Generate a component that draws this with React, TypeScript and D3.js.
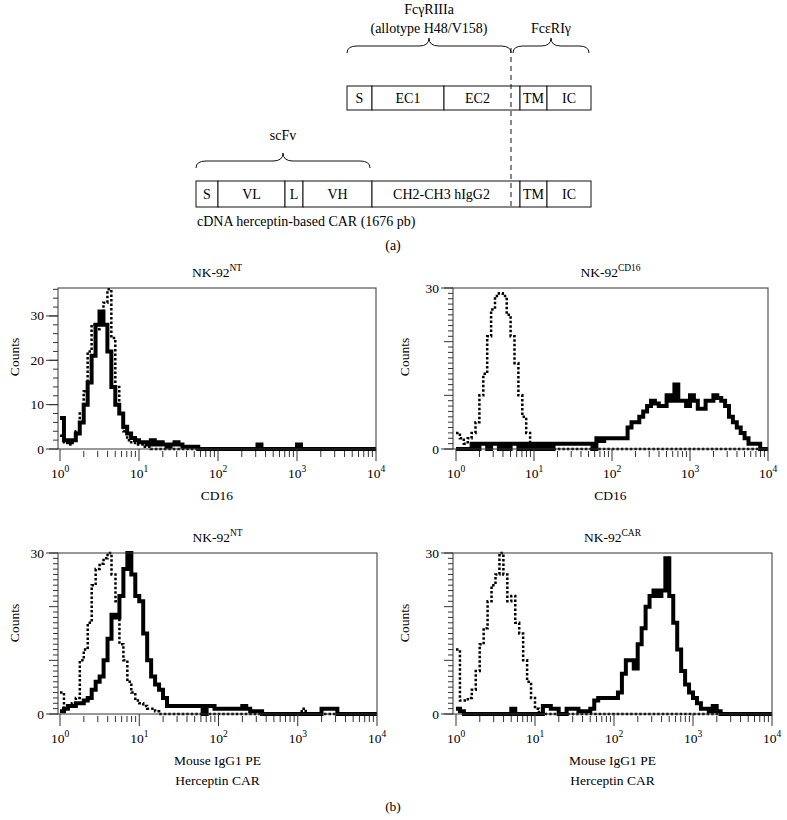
import React from 'react';
import * as d3 from 'd3';

const FONT = '"Liberation Serif", "DejaVu Serif", serif';
const INK = '#111';
const FS = 13.5;

// histogram channels: 20 per decade, 10^0 .. 10^4
const binsPerDecade = 20;

// (b) top-left: NK-92 NT, CD16
const ntCd16Stained = [
  7, 2, 1.5, 2, 3.5, 6, 10, 15, 21, 28,
  31, 28, 22, 14, 10, 8, 5, 3.5, 2.5, 2,
  1.5, 1.5, 1, 2, 1, 1.5, 1, 0.5, 1, 1.5,
  1, 0.5, 0.5, 0.5, 0.5, 0, 0, 0, 0, 0,
  0, 0, 0, 0, 0, 0, 0, 0, 0, 0,
  1, 0, 0, 0, 0, 0, 0, 0, 0, 0,
  1, 0, 0, 0, 0, 0, 0, 0, 0, 0,
  0, 0, 0, 0, 0, 0, 0, 0, 0, 0,
];
const ntCd16Isotype = [
  3, 1.5, 1, 2, 4, 8, 13, 22, 28, 27,
  30, 33, 36, 25, 14, 8, 4, 2, 1.5, 1,
  1, 0.5, 0.5, 0, 0, 0, 0, 0, 0, 0,
  0, 0, 0, 0, 0, 0, 0, 0, 0, 0,
  0, 0, 0, 0, 0, 0, 0, 0, 0, 0,
  0, 0, 0, 0, 0, 0, 0, 0, 0, 0,
  0, 0, 0, 0, 0, 0, 0, 0, 0, 0,
  0, 0, 0, 0, 0, 0, 0, 0, 0, 0,
];

// (b) top-right: NK-92 CD16, CD16
const cd16Cd16Stained = [
  0, 0, 0, 0, 1, 0, 1, 1, 0, 1,
  1, 0, 1, 0, 1, 1, 0, 1, 0, 1,
  0, 1, 0, 1, 0, 1, 1, 1, 1, 1,
  1, 1, 1, 1, 1, 0, 2, 1.5, 2, 2,
  2, 2, 2, 2, 4, 5, 5, 6, 7, 8,
  9, 8.5, 8, 8, 10, 9, 12, 9, 9, 8,
  10, 9, 7.5, 7.5, 9, 9, 10, 9.5, 9, 8,
  6, 5, 4, 3, 2, 1, 1, 1, 0, 0,
];
const cd16Cd16Isotype = [
  3, 2, 1, 2, 3, 5, 10, 14, 21, 26,
  28.5, 29, 28.5, 25, 21, 16, 10, 6, 3, 1,
  0, 0, 0, 0, 0, 0, 0, 0, 0, 0,
  0, 0, 0, 0, 0, 0, 0, 0, 0, 0,
  0, 0, 0, 0, 0, 0, 0, 0, 0, 0,
  0, 0, 0, 0, 0, 0, 0, 0, 0, 0,
  0, 0, 0, 0, 0, 0, 0, 0, 0, 0,
  0, 0, 0, 0, 0, 0, 0, 0, 0, 0,
];

// (b) bottom-left: NK-92 NT, Herceptin CAR
const ntCarStained = [
  0.5, 1, 1.5, 1.5, 2, 2, 2.5, 3, 4.5, 6,
  7, 10, 14, 18.5, 18, 22, 27, 30, 26, 22,
  21, 15, 10, 7, 5.5, 4.5, 3, 1.5, 1.5, 1.5,
  1.5, 1.5, 1.5, 1.5, 1.5, 1.5, 0, 1.5, 1.5, 1,
  1, 1, 1, 1, 1, 1, 1.5, 1, 0.5, 0.5,
  0.5, 0, 0, 0, 0, 0, 0, 0, 0, 0,
  0, 0, 0, 0, 0, 0, 1, 1, 1, 1,
  0, 0, 0, 0, 0, 0, 0, 0, 0, 0,
];
const ntCarIsotype = [
  4, 1, 1.5, 2, 3, 10, 12, 17, 24, 27,
  28, 29, 30, 26, 21, 13, 10, 6, 4, 2.5,
  2, 1.5, 1, 1, 0.5, 0, 0, 0, 0, 0,
  0, 0, 0, 0, 0, 0, 0, 0, 0, 0,
  0, 0, 0, 0, 0, 0, 0, 0, 0, 0,
  0, 0, 0, 0, 0, 0, 0, 0, 0, 0,
  0, 1, 0, 0, 0, 0, 0, 0, 0, 0,
  0, 0, 0, 0, 0, 0, 0, 0, 0, 0,
];

// (b) bottom-right: NK-92 CAR, Herceptin CAR
const carCarStained = [
  1, 0.5, 0, 0, 0, 0, 0, 0, 0, 0,
  0, 0, 0, 0, 1, 0, 0, 0, 0, 0,
  0, 0, 1.5, 1.5, 1, 1, 0, 0, 1, 1,
  1, 0.5, 0.5, 0.5, 1, 2.5, 3, 3, 3, 3,
  3, 4, 7.5, 10, 10, 8.5, 13, 16, 20, 22,
  23, 22, 23, 29, 22, 17, 12, 8, 5.5, 4,
  3, 2, 1, 1, 0.5, 1.5, 0.5, 0, 0, 0,
  0, 0, 0, 0, 0, 0, 0, 0, 0, 0,
];
const carCarIsotype = [
  12, 2.5, 2.5, 3, 4.5, 8, 13, 16, 21, 24,
  26, 30, 26, 21, 22, 17, 15, 10, 6, 3,
  1, 0, 0, 0, 0, 0, 0, 0, 0, 0,
  0, 0, 0, 0, 0, 0, 0, 0, 0, 0,
  0, 0, 0, 0, 0, 0, 0, 0, 0, 0,
  0, 0, 0, 0, 0, 0, 0, 0, 0, 0,
  0, 0, 0, 0, 0, 0, 0, 0, 0, 0,
  0, 0, 0, 0, 0, 0, 0, 0, 0, 0,
];

const decades = [1, 10, 100, 1000, 10000];

// (a) construct schematic, lengths in arbitrary units
const receptorStart = 151;
const receptorSegments = [
  { label: 'S', len: 25 },
  { label: 'EC1', len: 72 },
  { label: 'EC2', len: 76 },
  { label: 'TM', len: 27 },
  { label: 'IC', len: 44 },
];
const carSegments = [
  { label: 'S', len: 22 },
  { label: 'VL', len: 67 },
  { label: 'L', len: 18 },
  { label: 'VH', len: 69 },
  { label: 'CH2-CH3 hIgG2', len: 148 },
  { label: 'TM', len: 27 },
  { label: 'IC', len: 44 },
];
const junction = 315;
const topBraces = [
  { lines: ['FcγRIIIa', '(allotype H48/V158)'], from: 151, to: 315 },
  { lines: ['FcεRIγ'], from: 317, to: 393 },
];
const bottomBraces = [{ lines: ['scFv'], from: 0, to: 174 }];

function bracePath(x1: number, x2: number, yb: number) {
  const xm = (x1 + x2) / 2;
  const r = 10;
  return `M${x1},${yb + 7} Q${x1},${yb} ${x1 + r},${yb} L${xm - r},${yb} Q${xm},${yb} ${xm},${yb - 8} ` +
    `Q${xm},${yb} ${xm + r},${yb} L${x2 - r},${yb} Q${x2},${yb} ${x2},${yb + 7}`;
}

function Construct() {
  const dx = d3.scaleLinear().domain([0, 395]).range([196, 591]);

  const row = (segs: { label: string; len: number }[], start: number, y: number, h: number) => {
    let pos = start;
    return segs.map((s, i) => {
      const a = pos;
      pos += s.len;
      const b = pos;
      const textEnd = a < junction && b > junction ? junction : b;
      return (
        <g key={i}>
          <rect x={dx(a)} y={y} width={dx(b) - dx(a)} height={h} fill="#fff" stroke={INK} strokeWidth={1} />
          <text x={(dx(a) + dx(textEnd)) / 2} y={y + h / 2 + 5} textAnchor="middle" fontSize={14}>{s.label}</text>
        </g>
      );
    });
  };

  const braces = (list: typeof topBraces, yb: number, lastBaseline: number) =>
    list.map((b, i) => (
      <g key={i}>
        <path d={bracePath(dx(b.from), dx(b.to), yb)} fill="none" stroke={INK} strokeWidth={1} />
        {b.lines.map((t, j) => (
          <text key={j} x={(dx(b.from) + dx(b.to)) / 2} y={lastBaseline - (b.lines.length - 1 - j) * 19}
            textAnchor="middle" fontSize={14}>{t}</text>
        ))}
      </g>
    ));

  return (
    <g>
      {braces(topBraces, 46, 33)}
      {braces(bottomBraces, 161, 140)}
      {row(receptorSegments, receptorStart, 86, 24)}
      {row(carSegments, 0, 181, 26)}
      <line x1={dx(junction)} x2={dx(junction)} y1={48} y2={209} stroke={INK} strokeWidth={1} strokeDasharray="5,4" />
      <text x={197} y={226} fontSize={14}>cDNA herceptin-based CAR (1676 pb)</text>
      <text x={393} y={250} textAnchor="middle" fontSize={14}>(a)</text>
    </g>
  );
}

type PanelProps = {
  left: number; right: number; top: number; bottom: number; xStart: number;
  yMax: number; yLabels: number[]; yMinor: number;
  title: string; sup: string; xTitle: string[];
  stained: number[]; isotype: number[]; countsX: number; countsY: number;
};

function Histogram(p: PanelProps) {
  const x = d3.scaleLog().domain([1, 1e4]).range([p.xStart, p.right]);
  const y = d3.scaleLinear().domain([0, p.yMax]).range([p.bottom, p.top]);
  const line = d3.line<[number, number]>()
    .x(d => x(d[0]))
    .y(d => y(d[1]))
    .curve(d3.curveStepAfter);
  const toPts = (c: number[]): [number, number][] => {
    const pts = c.map((v, i) => [Math.pow(10, i / binsPerDecade), v] as [number, number]);
    pts.push([1e4, c[c.length - 1]]);
    return pts;
  };
  const minorX: number[] = [];
  decades.slice(0, -1).forEach(d => { for (let k = 2; k <= 9; k++) minorX.push(d * k); });
  const minorY = d3.range(0, p.yMax + 0.01, p.yMinor);
  const cx = (p.left + p.right) / 2;

  return (
    <g>
      <path d={line(toPts(p.isotype)) || ''} fill="none" stroke="#000" strokeWidth={2.5} strokeDasharray="2.5,2" />
      <path d={line(toPts(p.stained)) || ''} fill="none" stroke="#000" strokeWidth={4} />
      <rect x={p.left} y={p.top} width={p.right - p.left} height={p.bottom - p.top} fill="none" stroke="#333" strokeWidth={1} />
      {minorY.map((v, i) => (
        <line key={'my' + i} x1={p.left - (v % 10 === 0 ? 9 : 5)} x2={p.left} y1={y(v)} y2={y(v)} stroke="#333" strokeWidth={1} />
      ))}
      {p.yLabels.map(v => (
        <g key={'yl' + v}>
          <line x1={p.left - 12} x2={p.left} y1={y(v)} y2={y(v)} stroke="#333" strokeWidth={1} />
          <text x={p.left - 14} y={y(v) + 4.5} textAnchor="end" fontSize={FS}>{v}</text>
        </g>
      ))}
      {minorX.map((v, i) => (
        <line key={'mx' + i} x1={x(v)} x2={x(v)} y1={p.bottom + 2} y2={p.bottom + 8} stroke="#333" strokeWidth={1} />
      ))}
      {decades.map((v, i) => (
        <g key={'xd' + i}>
          <line x1={x(v)} x2={x(v)} y1={p.bottom} y2={p.bottom + 12} stroke="#333" strokeWidth={1} />
          <text x={x(v)} y={p.bottom + 29} textAnchor="middle" fontSize={FS}>
            10<tspan fontSize={9.5} dy={-6}>{i}</tspan>
          </text>
        </g>
      ))}
      {p.xTitle.map((t, i) => (
        <text key={'xt' + i} x={cx} y={p.bottom + 51 + i * 20} textAnchor="middle" fontSize={FS}>{t}</text>
      ))}
      <text x={cx} y={p.top - 11} textAnchor="middle" fontSize={FS}>
        {p.title}<tspan fontSize={9.5} dy={-6}>{p.sup}</tspan>
      </text>
      <text transform={`translate(${p.countsX},${p.countsY}) rotate(-90)`} textAnchor="middle" fontSize={FS}>Counts</text>
    </g>
  );
}

export default function App() {
  return (
    <svg width={787} height={820} style={{ position: 'absolute', left: 0, top: 0, background: '#fff' }}
      fontFamily={FONT} fill="#000">
      <rect width={787} height={820} fill="#fff" />
      <Construct />
      <Histogram left={58} right={376} top={288} bottom={449} xStart={60} yMax={36.3} yLabels={[0, 10, 20, 30]} yMinor={2}
        title="NK-92" sup="NT" xTitle={['CD16']} stained={ntCd16Stained} isotype={ntCd16Isotype} countsX={19} countsY={357} />
      <Histogram left={453} right={768} top={288} bottom={449} xStart={456} yMax={30} yLabels={[0, 30]} yMinor={1}
        title="NK-92" sup="CD16" xTitle={['CD16']} stained={cd16Cd16Stained} isotype={cd16Cd16Isotype} countsX={409} countsY={357} />
      <Histogram left={58} right={377} top={553} bottom={714} xStart={60} yMax={30} yLabels={[0, 30]} yMinor={1}
        title="NK-92" sup="NT" xTitle={['Mouse IgG1 PE', 'Herceptin CAR']} stained={ntCarStained} isotype={ntCarIsotype} countsX={19} countsY={623} />
      <Histogram left={453} right={772} top={553} bottom={714} xStart={456} yMax={30} yLabels={[0, 30]} yMinor={1}
        title="NK-92" sup="CAR" xTitle={['Mouse IgG1 PE', 'Herceptin CAR']} stained={carCarStained} isotype={carCarIsotype} countsX={409} countsY={623} />
      <text x={393} y={811} textAnchor="middle" fontSize={FS}>(b)</text>
    </svg>
  );
}
